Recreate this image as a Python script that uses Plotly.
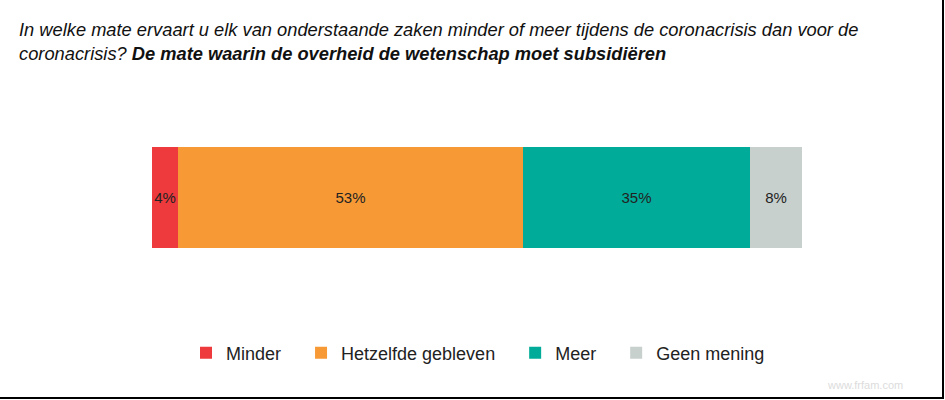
import plotly.graph_objects as go

categories = ["Minder", "Hetzelfde gebleven", "Meer", "Geen mening"]
values = [4, 53, 35, 8]
colors = ["#EE3A3C", "#F79A36", "#00AC99", "#C8D0CD"]
row_label = ["De mate waarin de overheid de wetenschap moet subsidiëren"]

W, H = 945, 400
# plot area in page pixels
X0, X1, Y0, Y1 = 152, 802, 147, 248
L, R, T, B = X0, W - X1, Y0, H - Y1
pw, ph = X1 - X0, Y1 - Y0

def px_x(x):
    return (x - X0) / pw

def px_y(y):
    return (Y1 - y) / ph

NB = "\u00a0"
fig = go.Figure()
for name, v, c in zip(categories, values, colors):
    fig.add_trace(go.Bar(
        y=row_label, x=[v], name=name + NB * 3, orientation="h",
        marker=dict(color=c, line=dict(width=0)),
        text=[f"{v}%"], textposition="inside", insidetextanchor="middle",
        constraintext="none", textangle=0,
        textfont=dict(family="Liberation Sans, Arial, sans-serif", size=15, color="#222222"),
        hoverinfo="name+x",
    ))

fig.update_layout(
    width=W, height=H,
    margin=dict(l=L, r=R, t=T, b=B),
    barmode="stack", bargap=0,
    paper_bgcolor="white", plot_bgcolor="white",
    xaxis=dict(range=[0, 100], visible=False, fixedrange=True),
    yaxis=dict(visible=False, range=[-0.5, 0.5], fixedrange=True),
    showlegend=True,
    legend=dict(orientation="h", x=px_x(186), y=px_y(353), xanchor="left", yanchor="middle",
                font=dict(family="Liberation Sans, Arial, sans-serif", size=18, color="#222222"),
                itemwidth=30, traceorder="normal"),
    annotations=[
        dict(xref="paper", yref="paper", x=px_x(17), y=px_y(17), xanchor="left", yanchor="top",
             align="left", showarrow=False,
             text="<i>In welke mate ervaart u elk van onderstaande zaken minder of meer tijdens de coronacrisis dan voor de<br>coronacrisis? <b>De mate waarin de overheid de wetenschap moet subsidiëren</b></i>",
             font=dict(family="Liberation Sans, Arial, sans-serif", size=18.3, color="#111111")),
        dict(xref="paper", yref="paper", x=px_x(905), y=px_y(385), xanchor="right", yanchor="middle",
             showarrow=False, text="www.frfam.com",
             font=dict(family="Liberation Sans, Arial, sans-serif", size=11, color="#dcdcdc")),
    ],
    shapes=[
        dict(type="line", xref="paper", yref="paper", x0=px_x(943), x1=px_x(943), y0=px_y(0), y1=px_y(399),
             line=dict(color="black", width=2)),
        dict(type="line", xref="paper", yref="paper", x0=px_x(0), x1=px_x(944), y0=px_y(398), y1=px_y(398),
             line=dict(color="black", width=2)),
    ],
)

fig.write_html(
    "out.html",
    config={"displayModeBar": False},
    post_script="document.body.style.margin='0';document.body.style.overflow='hidden';",
)
